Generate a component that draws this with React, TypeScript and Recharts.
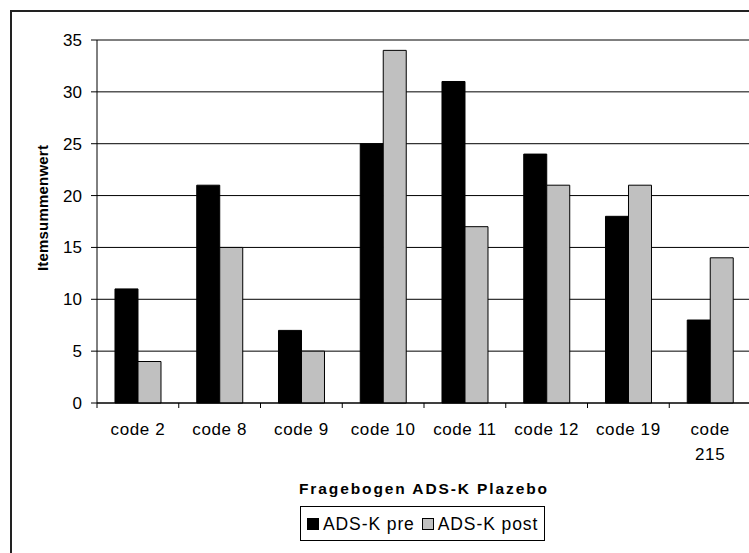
import React from 'react';
import { BarChart, Bar, XAxis, YAxis, CartesianGrid, Legend } from 'recharts';

const categories = ['code 2', 'code 8', 'code 9', 'code 10', 'code 11', 'code 12', 'code 19', 'code 215'];
const preValues = [11, 21, 7, 25, 31, 24, 18, 8];
const postValues = [4, 15, 5, 34, 17, 21, 21, 14];
const yTicks = [0, 5, 10, 15, 20, 25, 30, 35];
const seriesNames = ['ADS-K pre', 'ADS-K post'];
const seriesColors = ['#000000', '#c0c0c0'];
const yAxisTitle = 'Itemsummenwert';
const xAxisTitle = 'Fragebogen ADS-K Plazebo';

const data = categories.map((c, i) => ({ name: c, pre: preValues[i], post: postValues[i] }));

const FONT = 'Arial, "Liberation Sans", sans-serif';
const TICK_SIZE = 5;
const TICK_MARGIN = 15;
const MAX_LINE_CHARS = 7;

function CategoryTick(props: any) {
  const { x, y, payload, index } = props;
  const half = payload && typeof payload.offset === 'number' ? payload.offset : 0;
  const axisY = y - TICK_MARGIN - TICK_SIZE;
  const isLast = index === categories.length - 1;
  const label = String(payload.value);
  const lines = label.length > MAX_LINE_CHARS ? label.split(' ') : [label];
  return (
    <g>
      {half > 0 && (
        <line x1={x - half} x2={x - half} y1={axisY} y2={axisY + TICK_SIZE} stroke="#000" />
      )}
      {half > 0 && isLast && (
        <line x1={x + half} x2={x + half} y1={axisY} y2={axisY + TICK_SIZE} stroke="#000" />
      )}
      <text
        x={x}
        y={axisY + 32}
        textAnchor="middle"
        fontSize={17}
        fontFamily={FONT}
        fill="#000"
        style={{ letterSpacing: 0.6 }}
      >
        {lines.map((ln, i) => (
          <tspan key={i} x={x} dy={i === 0 ? 0 : 25}>
            {ln}
          </tspan>
        ))}
      </text>
    </g>
  );
}

function LegendContent(props: any) {
  const payload = props && props.payload && props.payload.length ? props.payload : null;
  const items = seriesNames.map((n, i) => {
    const found = payload ? payload.find((p: any) => p.value === n) : null;
    return { value: n, color: found && found.color ? found.color : seriesColors[i] };
  });
  return (
    <div
      style={{
        border: '1px solid #000',
        background: '#fff',
        boxSizing: 'border-box',
        width: 245,
        height: 35,
        display: 'flex',
        alignItems: 'center',
        paddingLeft: 6,
        fontFamily: FONT,
        fontSize: 17.5,
        letterSpacing: 0.9,
        color: '#000',
        whiteSpace: 'nowrap',
        overflow: 'visible',
      }}
    >
      {items.map((it: any, i: number) => (
        <div
          key={i}
          style={{ display: 'flex', alignItems: 'center', marginRight: 7, flexShrink: 0, whiteSpace: 'nowrap' }}
        >
          <span
            style={{
              display: 'inline-block',
              width: 12,
              height: 12,
              boxSizing: 'border-box',
              border: '1px solid #000',
              background: it.color,
              marginRight: 4,
              flexShrink: 0,
            }}
          />
          <span style={{ lineHeight: '18px', whiteSpace: 'nowrap' }}>{it.value}</span>
        </div>
      ))}
    </div>
  );
}

export default function App() {
  return (
    <div
      style={{
        position: 'absolute',
        left: 0,
        top: 0,
        width: 749,
        height: 553,
        overflow: 'hidden',
        background: '#fff',
      }}
    >
      <div
        style={{
          position: 'absolute',
          left: 10,
          top: 10,
          width: 800,
          height: 600,
          border: '2px solid #222',
        }}
      />
      <div style={{ position: 'absolute', left: 0, top: 0 }}>
        <BarChart
          width={760}
          height={560}
          data={data}
          margin={{ top: 40, right: 9, left: 37, bottom: 117 }}
          barCategoryGap="22%"
          barGap={0}
        >
          <CartesianGrid vertical={false} stroke="#000" />
          <XAxis
            dataKey="name"
            interval={0}
            height={40}
            tickSize={TICK_SIZE}
            tickMargin={TICK_MARGIN}
            tickLine={false}
            axisLine={{ stroke: '#000' }}
            tick={<CategoryTick />}
            label={(lp: any) => {
              const vb = lp && lp.viewBox ? lp.viewBox : { x: 97, y: 403, width: 654 };
              return (
                <text
                  x={vb.x + vb.width / 2}
                  y={vb.y + 85}
                  textAnchor="middle"
                  dominantBaseline="central"
                  fontFamily={FONT}
                  fontSize={15.5}
                  fontWeight="bold"
                  fill="#000"
                  style={{ letterSpacing: 1.9 }}
                >
                  {xAxisTitle}
                </text>
              );
            }}
          />
          <YAxis
            domain={[0, 35]}
            ticks={yTicks}
            interval={0}
            width={60}
            tickSize={6}
            tickMargin={9}
            axisLine={{ stroke: '#000' }}
            tickLine={{ stroke: '#000' }}
            tick={{ fontSize: 17, fill: '#000', fontFamily: FONT }}
            label={(lp: any) => {
              const vb = lp && lp.viewBox ? lp.viewBox : { x: 37, y: 40, width: 60, height: 363 };
              const cx = vb.x + 5;
              const cy = vb.y + vb.height / 2 - 13.5;
              return (
                <text
                  x={cx}
                  y={cy}
                  transform={`rotate(-90 ${cx} ${cy})`}
                  textAnchor="middle"
                  dominantBaseline="central"
                  fontFamily={FONT}
                  fontSize={15}
                  fontWeight="bold"
                  fill="#000"
                  style={{ letterSpacing: 0.2 }}
                >
                  {yAxisTitle}
                </text>
              );
            }}
          />
          <Legend
            layout="horizontal"
            verticalAlign="middle"
            align="center"
            wrapperStyle={{ left: 300, top: 506, width: 245, height: 35 }}
            content={<LegendContent />}
          />
          <Bar
            dataKey="pre"
            name={seriesNames[0]}
            fill={seriesColors[0]}
            stroke="#000"
            strokeWidth={1}
            isAnimationActive={false}
          />
          <Bar
            dataKey="post"
            name={seriesNames[1]}
            fill={seriesColors[1]}
            stroke="#000"
            strokeWidth={1}
            isAnimationActive={false}
          />
        </BarChart>
      </div>
    </div>
  );
}
